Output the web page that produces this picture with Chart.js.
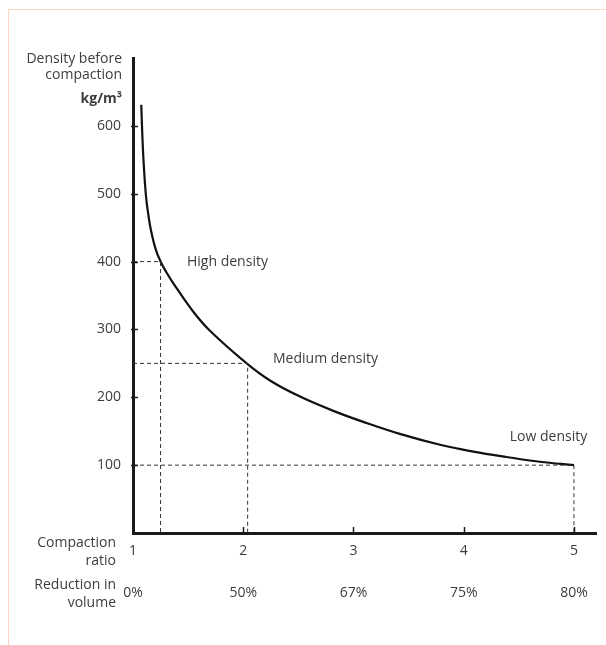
<!DOCTYPE html>
<html>
<head>
<meta charset="utf-8">
<style>
  html, body { margin: 0; padding: 0; background: #fff; }
  #wrap { position: relative; width: 606px; height: 645px; }
  #frame { position: absolute; left: 8px; top: 9px; right: 0; bottom: 0;
           border-top: 1px solid #fbd5c2; border-left: 1px solid #fbd5c2; }
  #myChart { position: absolute; left: 0; top: 0; }
</style>
</head>
<body>
<div id="wrap">
    <div id="frame"></div>
    <canvas id="myChart" width="606" height="645"></canvas>
</div>

<script src="https://cdn.jsdelivr.net/npm/chart.js"></script>

<script>
    // compaction ratio (x) vs density before compaction in kg/m3 (y)
    const ratio   = [1.075, 1.082, 1.095, 1.118, 1.14, 1.163, 1.206, 1.25, 1.3, 1.366, 1.547, 1.698, 2.031, 2.25, 2.515, 2.817, 3.12, 3.42, 3.785, 4.087, 4.39, 4.69, 5.0];
    const density = [631, 598, 550, 496, 468, 446, 418, 400, 385, 368, 326, 298, 250, 224, 201, 180, 162, 146, 130, 120, 112, 105, 100];

    // the three reference points (dashed guides)
    const guideRatio   = [1.25, 2.04, 5.0];
    const guideDensity = [400, 250, 100];
    const guideNames   = ['High density', 'Medium density', 'Low density'];

    // tick labels
    const ratioTicks   = [1, 2, 3, 4, 5];
    const volumeLabels = ['0%', '50%', '67%', '75%', '80%'];
    const densityTicks = [100, 200, 300, 400, 500, 600];

    const FONT = "'Open Sans', 'Noto Sans', sans-serif";
    const TXT = '#3d3d3d';
    const AXIS = '#1a1a1a';

    const guides = guideRatio.map(function (r, i) {
        return {
            data: [{x: 1, y: guideDensity[i]}, {x: r, y: guideDensity[i]}, {x: r, y: 0}],
            borderColor: '#333',
            borderWidth: 1,
            borderDash: [4, 3],
            pointRadius: 0,
            showLine: true,
            tension: 0
        };
    });

    const curve = {
        data: ratio.map(function (r, i) { return {x: r, y: density[i]}; }),
        borderColor: '#111',
        borderWidth: 2.2,
        pointRadius: 0,
        showLine: true,
        tension: 0.4
    };

    // inward tick marks, axis titles and curve labels
    const extras = {
        id: 'extras',
        afterDraw(chart) {
            const c = chart.ctx, a = chart.chartArea;
            const xs = chart.scales.x, ys = chart.scales.y;
            c.save();
            c.strokeStyle = AXIS;
            c.lineWidth = 1.5;
            densityTicks.forEach(function (v) {
                const py = Math.round(ys.getPixelForValue(v)) + 0.5;
                c.beginPath(); c.moveTo(a.left - 2, py); c.lineTo(a.left + 5, py); c.stroke();
            });
            ratioTicks.slice(1).forEach(function (v) {
                const px = Math.round(xs.getPixelForValue(v)) + 0.5;
                c.beginPath(); c.moveTo(px, a.bottom); c.lineTo(px, a.bottom - 6); c.stroke();
            });

            c.fillStyle = TXT;
            c.textBaseline = 'middle';
            c.textAlign = 'right';
            c.font = '14px ' + FONT;
            const top = ys.getPixelForValue(600);
            c.fillText('Density before', a.left - 11, top - 67);
            c.fillText('compaction', a.left - 11, top - 51);
            c.font = 'bold 14px ' + FONT;
            c.fillText('kg/m³', a.left - 11, top - 27);

            c.font = '14px ' + FONT;
            c.fillText('Compaction', a.left - 17, a.bottom + 10);
            c.fillText('ratio', a.left - 17, a.bottom + 28);
            c.fillText('Reduction in', a.left - 17, a.bottom + 52);
            c.fillText('volume', a.left - 17, a.bottom + 70);

            c.textAlign = 'left';
            c.fillText(guideNames[0], xs.getPixelForValue(1.49), ys.getPixelForValue(400));
            c.fillText(guideNames[1], xs.getPixelForValue(2.27), ys.getPixelForValue(257));
            c.textAlign = 'right';
            c.fillText(guideNames[2], xs.getPixelForValue(5.12), ys.getPixelForValue(142));
            c.restore();
        }
    };

    new Chart(document.getElementById('myChart'), {
        type: 'scatter',
        data: { datasets: guides.concat([curve]) },
        options: {
            responsive: false,
            animation: false,
            layout: { padding: { left: 0, right: 10, top: 58, bottom: 12 } },
            plugins: { legend: { display: false }, tooltip: { enabled: false } },
            scales: {
                x: {
                    type: 'linear',
                    min: 1,
                    max: 5.2,
                    afterFit(scale) { scale.height = 100; },
                    afterBuildTicks(scale) { scale.ticks = ratioTicks.map(function (v) { return {value: v}; }); },
                    grid: { display: false, drawTicks: false },
                    border: { display: true, color: AXIS, width: 3 },
                    ticks: {
                        padding: 8,
                        maxRotation: 0,
                        autoSkip: false,
                        color: TXT,
                        font: { family: FONT, size: 14, lineHeight: 1.5 },
                        callback(v) {
                            const i = ratioTicks.indexOf(v);
                            return i < 0 ? null : [String(v), '', volumeLabels[i]];
                        }
                    }
                },
                y: {
                    min: 0,
                    max: 700,
                    afterFit(scale) { scale.width = 133; },
                    afterBuildTicks(scale) { scale.ticks = densityTicks.map(function (v) { return {value: v}; }); },
                    grid: { display: false, drawTicks: false },
                    border: { display: true, color: AXIS, width: 3 },
                    ticks: {
                        padding: 12,
                        color: TXT,
                        font: { family: FONT, size: 14 },
                        callback(v) { return String(v); }
                    }
                }
            }
        },
        plugins: [extras]
    });
</script>
</body>
</html>
